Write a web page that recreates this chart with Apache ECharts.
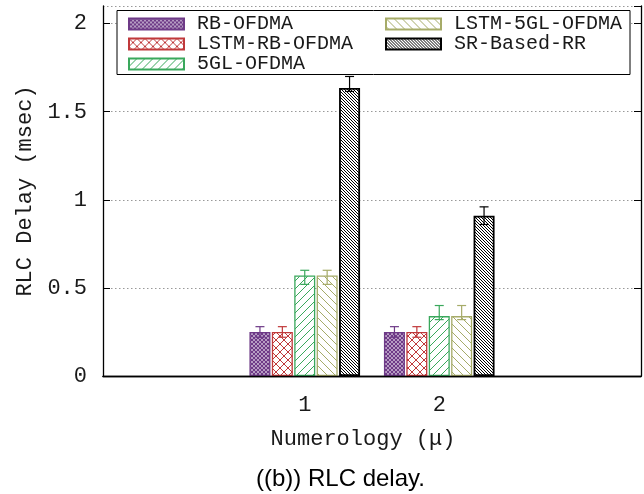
<!DOCTYPE html>
<html>
<head>
<meta charset="utf-8">
<script src="https://cdn.jsdelivr.net/npm/echarts@6/dist/echarts.min.js"></script>
<style>html,body{margin:0;padding:0;background:#fff}#c{width:644px;height:494px}</style>
</head>
<body>
<div id="c"></div>
<script>
// ---- data ----
const categories = ['', '1', '2', ''];
const seriesNames = ['RB-OFDMA', 'LSTM-RB-OFDMA', '5GL-OFDMA', 'LSTM-5GL-OFDMA', 'SR-Based-RR'];
const rbOfdma      = [null, 0.25, 0.25, null];
const lstmRbOfdma  = [null, 0.25, 0.25, null];
const fiveGlOfdma  = [null, 0.57, 0.34, null];
const lstm5glOfdma = [null, 0.57, 0.34, null];
const srBasedRR    = [null, 1.635, 0.91, null];
const rbLow      = [null, 0.22, 0.22, null];
const rbHigh     = [null, 0.28, 0.28, null];
const lstmRbLow  = [null, 0.22, 0.22, null];
const lstmRbHigh = [null, 0.28, 0.28, null];
const fglLow     = [null, 0.52, 0.32, null];
const fglHigh    = [null, 0.60, 0.40, null];
const lfglLow    = [null, 0.52, 0.32, null];
const lfglHigh   = [null, 0.60, 0.40, null];
const srLow      = [null, 1.615, 0.86, null];
const srHigh     = [null, 1.70, 0.96, null];
const yTicks = [0, 0.5, 1, 1.5, 2];

const values = [rbOfdma, lstmRbOfdma, fiveGlOfdma, lstm5glOfdma, srBasedRR];
const lows = [rbLow, lstmRbLow, fglLow, lfglLow, srLow];
const highs = [rbHigh, lstmRbHigh, fglHigh, lfglHigh, srHigh];

// ---- styles ----
const colors = ['#6e3a87', '#c0393b', '#3aa85c', '#a6ab68', '#000000'];
function makePattern(color, size, dirs, lw) {
  const c = document.createElement('canvas');
  c.width = size; c.height = size;
  const g = c.getContext('2d');
  g.fillStyle = '#fff'; g.fillRect(0, 0, size, size);
  g.strokeStyle = color; g.lineWidth = lw;
  dirs.forEach(d => {
    for (let k = -1; k <= 1; k++) {
      g.beginPath();
      if (d === '/') { g.moveTo(k * size - 1, size + 1); g.lineTo(k * size + size + 1, -1); }
      else { g.moveTo(k * size - 1, -1); g.lineTo(k * size + size + 1, size + 1); }
      g.stroke();
    }
  });
  return { image: c, repeat: 'repeat' };
}
const patterns = [
  makePattern(colors[0], 4, ['/', '\\'], 1.4),
  makePattern(colors[1], 8, ['/', '\\'], 1),
  makePattern(colors[2], 8, ['/'], 1),
  makePattern(colors[3], 8, ['\\'], 1),
  makePattern(colors[4], 3, ['\\'], 1)
];
const barWidth = 21, barStep = 22.4;
const mono = 'Liberation Mono';
const txt = '#1a1a1a';

const series = [];
seriesNames.forEach((name, i) => {
  series.push({
    name, type: 'bar', data: values[i], barWidth, barGap: '6.7%', z: 2,
    itemStyle: { color: patterns[i], borderColor: colors[i], borderWidth: i === 4 ? 1.8 : 1.3 }
  });
});
seriesNames.forEach((name, i) => {
  const d = [];
  categories.forEach((c, k) => { if (values[i][k] != null) d.push([k, lows[i][k], highs[i][k]]); });
  series.push({
    type: 'custom', name: name + '-err', z: 3, silent: true,
    data: d,
    renderItem: function (params, api) {
      const off = (i - 2) * barStep;
      const a = api.coord([api.value(0), api.value(1)]);
      const b = api.coord([api.value(0), api.value(2)]);
      const x = a[0] + off, cap = 4.5;
      const st = { stroke: colors[i], lineWidth: 1.2 };
      return { type: 'group', children: [
        { type: 'line', shape: { x1: x, y1: a[1], x2: x, y2: b[1] }, style: st },
        { type: 'line', shape: { x1: x - cap, y1: a[1], x2: x + cap, y2: a[1] }, style: st },
        { type: 'line', shape: { x1: x - cap, y1: b[1], x2: x + cap, y2: b[1] }, style: st }
      ]};
    }
  });
});

const chart = echarts.init(document.getElementById('c'), null, { renderer: 'canvas' });
const legendCommon = {
  orient: 'vertical', itemWidth: 55, itemHeight: 11, itemGap: 0, padding: 0, z: 5, icon: 'rect',
  textStyle: { fontFamily: mono, fontSize: 20, color: txt, lineHeight: 20, padding: [0, 0, 0, 8] },
  selectedMode: false
};
chart.setOption({
  animation: false,
  backgroundColor: '#fff',
  title: { text: '((b)) RLC delay.', left: 251, top: 462,
    textStyle: { fontFamily: 'Liberation Sans', fontSize: 24, fontWeight: 'normal', color: '#000' } },
  grid: { left: 103, right: 3, top: 6, bottom: 118, show: false },
  graphic: [{ type: 'rect', z: 4, shape: { x: 117, y: 10.5, width: 513, height: 64 },
    style: { fill: '#fff', stroke: '#000', lineWidth: 1 } }],
  legend: [
    Object.assign({ left: 128, top: 14, data: seriesNames.slice(0, 3) }, legendCommon),
    Object.assign({ left: 385, top: 14, data: seriesNames.slice(3) }, legendCommon)
  ],
  xAxis: [{
    type: 'category', data: categories, position: 'bottom',
    axisLine: { lineStyle: { color: '#000', width: 1.3 } }, axisTick: { show: false },
    axisLabel: { fontFamily: mono, fontSize: 22, color: txt, margin: 18 },
    name: 'Numerology (μ)', nameLocation: 'middle', nameGap: 52,
    nameTextStyle: { fontFamily: mono, fontSize: 22, color: txt, padding: [0, 18, 0, 0] }
  }, {
    type: 'category', data: categories, position: 'top', z: 10,
    axisLine: { lineStyle: { color: '#000', width: 1.3 } }, axisTick: { show: false }, axisLabel: { show: false }
  }],
  yAxis: [{
    type: 'value', min: 0, max: 2.1, interval: 0.5,
    axisLine: { show: true, lineStyle: { color: '#000', width: 1.3 } },
    axisTick: { show: true, inside: true, length: 7, lineStyle: { color: '#000' } },
    axisLabel: { fontFamily: mono, fontSize: 22, color: txt, margin: 16, showMaxLabel: false,
      formatter: v => yTicks.indexOf(v) >= 0 ? String(v) : '' },
    splitLine: { show: true, lineStyle: { color: '#999', type: [1.5, 2.5], width: 1 } },
    name: 'RLC Delay (msec)', nameLocation: 'middle', nameGap: 64,
    nameTextStyle: { fontFamily: mono, fontSize: 22, color: txt }
  }, {
    type: 'value', min: 0, max: 2.1, interval: 0.5, position: 'right', z: 10,
    axisLine: { show: true, lineStyle: { color: '#000', width: 1.3 } },
    axisTick: { show: true, inside: true, length: 7, lineStyle: { color: '#000' } },
    axisLabel: { show: false }, splitLine: { show: false }
  }],
  series
});
</script>
</body>
</html>
